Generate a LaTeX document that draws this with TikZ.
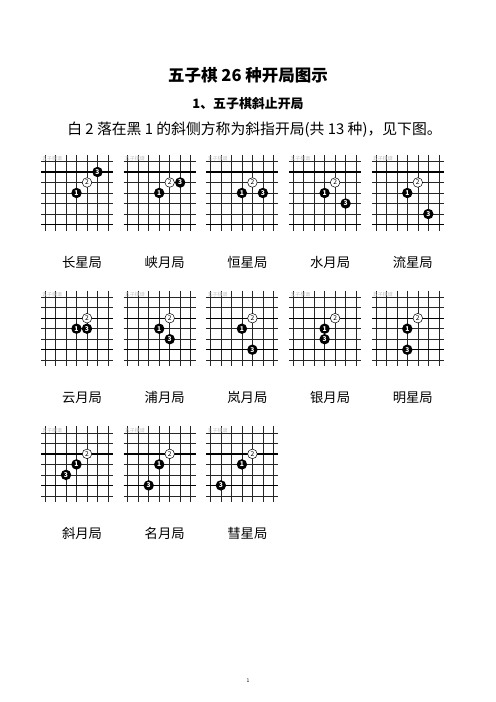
\documentclass[tikz,border=0pt]{standalone}
\usepackage{fontspec}
\setmainfont{Noto Sans CJK SC}
\usetikzlibrary{positioning}

\begin{document}
\begin{tikzpicture}[x=1.2pt, y=-1.2pt,
	grid line/.style={line width=0.65pt, black!85},
	heavy line/.style={line width=1.5pt, black},
	black stone/.style={circle, fill=black, minimum size=12.5pt, inner sep=0pt, text=white, font=\fontsize{8}{8}\selectfont\bfseries},
	white stone/.style={circle, draw=black, fill=white, line width=0.6pt, minimum size=11.5pt, inner sep=0pt, font=\fontsize{8}{8}\selectfont},
	board mark/.style={text=black!25, anchor=west, inner sep=0pt, font=\fontsize{6}{6}\selectfont},
	board name/.style={font=\fontsize{16}{16}\selectfont}]
	
	\useasboundingbox (0,0) rectangle (496,702);
	
	\node[font=\fontsize{19.8}{19.8}\selectfont\bfseries] (title) at (248,75) {五子棋 26 种开局图示};
	\node[font=\fontsize{15.5}{15.5}\selectfont\bfseries] (section) at (248,104) {1、五子棋斜止开局};
	\node[font=\fontsize{17.8}{17.8}\selectfont] (intro) at (254.5,130) {白 2 落在黑 1 的斜侧方称为斜指开局(共 13 种)，见下图。};
	
	% boards: x, y, col and row of stone 3, heavy rows, name
	\foreach \bx/\by/\tc/\tr/\ha/\hb/\lab/\id in {
		45/161.5/5/1/1/6/长星局/a, 127.7/161.5/5/2/1/6/峡月局/b, 210.4/161.5/5/3/1/6/恒星局/c,
		293.1/161.5/5/4/1/6/水月局/d, 375.8/161.5/5/5/1/6/流星局/e,
		45/297.2/4/3/2/5/云月局/f, 127.7/297.2/4/4/2/5/浦月局/g, 210.4/297.2/4/5/2/5/岚月局/h,
		293.1/297.2/3/4/2/5/银月局/i, 375.8/297.2/3/5/2/5/明星局/j,
		45/432.9/2/4/2/5/斜月局/k, 127.7/432.9/2/5/2/5/名月局/l, 210.4/432.9/1/5/2/5/彗星局/m}
	{
		\begin{scope}[shift={(\bx,\by)}]
			\foreach \k in {0,...,6} {
				\draw[grid line] (\k*10.5,-6.5) -- (\k*10.5,69);
				\draw[grid line] (-4,\k*10.5) -- (68,\k*10.5);
			}
			\draw[heavy line] (-4,\ha*10.5) -- (68,\ha*10.5);
			\draw[heavy line] (-4,\hb*10.5) -- (68,\hb*10.5);
			\node[board mark] (mark\id) at (-3,-2.5) {五子棋谱};
			\node[black stone] (\id1) at (31.5,31.5) {1};
			\node[white stone] (\id2) at (42,21) {2};
			\node[black stone] (\id3) at (\tc*10.5,\tr*10.5) {3};
			\node[board name] (name\id) at (37,100.5) {\lab};
		\end{scope}
	}
	
	\node[font=\fontsize{6}{6}\selectfont] (page) at (248,681) {1};
\end{tikzpicture}
\end{document}
